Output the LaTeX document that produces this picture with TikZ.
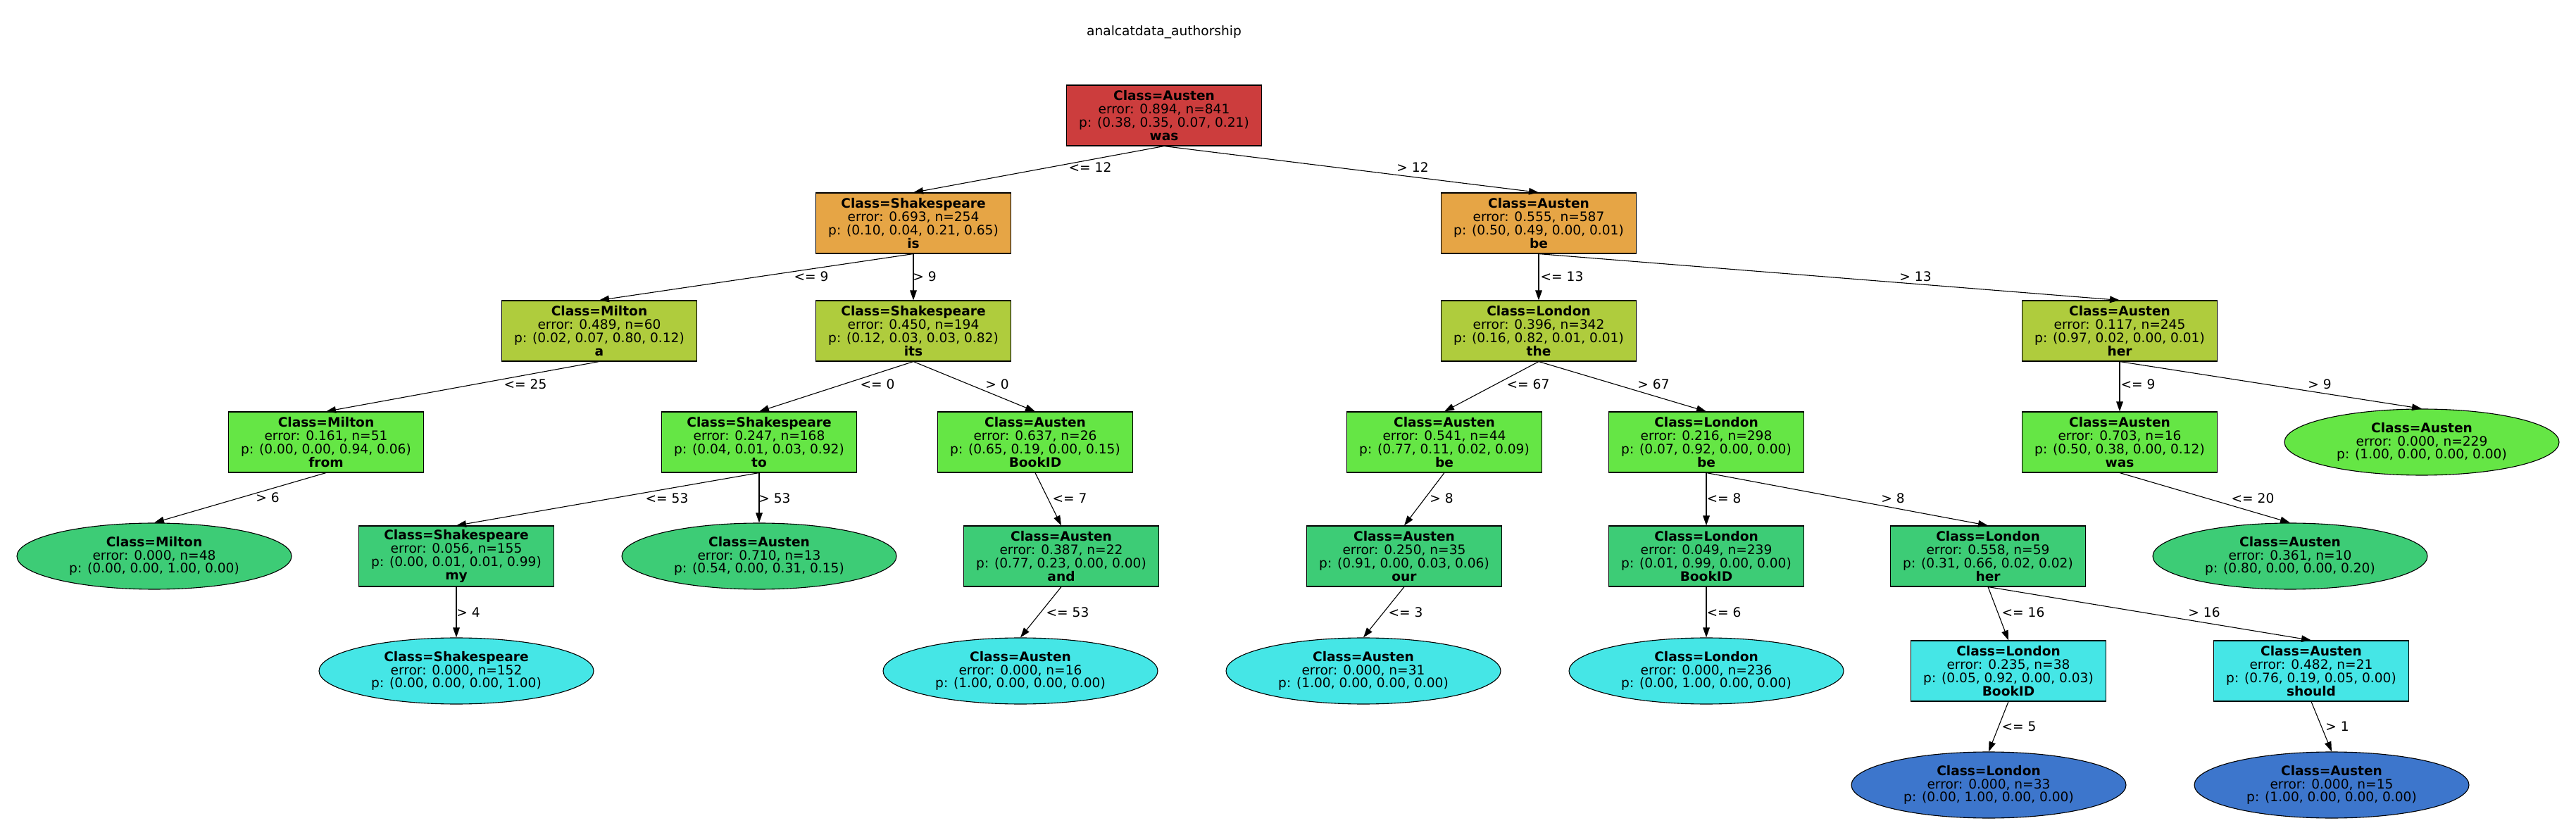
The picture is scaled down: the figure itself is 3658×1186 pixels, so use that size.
\documentclass[tikz,border=0pt]{standalone}
\usepackage{fontspec}
\setmainfont{DejaVu Sans}
\usetikzlibrary{arrows.meta,shapes.geometric}
\definecolor{cred}{HTML}{CC3D3D}
\definecolor{corange}{HTML}{E6A545}
\definecolor{cyellow}{HTML}{AFCC3D}
\definecolor{cgreen}{HTML}{65E645}
\definecolor{cteal}{HTML}{3DCC76}
\definecolor{ccyan}{HTML}{45E6E6}
\definecolor{cblue}{HTML}{3D76CC}

\begin{document}
\begin{tikzpicture}[x=0.5pt, y=-0.5pt,
  every node/.style={font=\fontsize{9.3}{9.4}\selectfont},
  split/.style={draw, rectangle, align=center, minimum width=138.5pt, minimum height=43pt, inner sep=0pt, line width=0.55pt},
  leaf/.style={draw, ellipse, align=center, minimum width=195pt, minimum height=47pt, inner sep=0pt, line width=0.55pt},
  edge/.style={line width=0.55pt, -{Triangle[length=7pt, width=4.8pt]}},
  cond/.style={inner sep=0pt}]
  \useasboundingbox (0,0) rectangle (3658,1186);
  \node (title) at (1653,46) {analcatdata\_authorship};

  % depth 0-2
  \node[split, fill=cred] (root) at (1653,164) {\textbf{Class=Austen}\\error: 0.894, n=841\\p: (0.38, 0.35, 0.07, 0.21)\\\textbf{was}};
  \node[split, fill=corange] (L) at (1297,317) {\textbf{Class=Shakespeare}\\error: 0.693, n=254\\p: (0.10, 0.04, 0.21, 0.65)\\\textbf{is}};
  \node[split, fill=corange] (R) at (2185,317) {\textbf{Class=Austen}\\error: 0.555, n=587\\p: (0.50, 0.49, 0.00, 0.01)\\\textbf{be}};
  \node[split, fill=cyellow] (LL) at (851,470) {\textbf{Class=Milton}\\error: 0.489, n=60\\p: (0.02, 0.07, 0.80, 0.12)\\\textbf{a}};
  \node[split, fill=cyellow] (LR) at (1297,470) {\textbf{Class=Shakespeare}\\error: 0.450, n=194\\p: (0.12, 0.03, 0.03, 0.82)\\\textbf{its}};
  \node[split, fill=cyellow] (RL) at (2185,470) {\textbf{Class=London}\\error: 0.396, n=342\\p: (0.16, 0.82, 0.01, 0.01)\\\textbf{the}};
  \node[split, fill=cyellow] (RR) at (3010,470) {\textbf{Class=Austen}\\error: 0.117, n=245\\p: (0.97, 0.02, 0.00, 0.01)\\\textbf{her}};

  % depth 3
  \node[split, fill=cgreen] (LLL) at (463,628) {\textbf{Class=Milton}\\error: 0.161, n=51\\p: (0.00, 0.00, 0.94, 0.06)\\\textbf{from}};
  \node[split, fill=cgreen] (LRL) at (1078,628) {\textbf{Class=Shakespeare}\\error: 0.247, n=168\\p: (0.04, 0.01, 0.03, 0.92)\\\textbf{to}};
  \node[split, fill=cgreen] (LRR) at (1470,628) {\textbf{Class=Austen}\\error: 0.637, n=26\\p: (0.65, 0.19, 0.00, 0.15)\\\textbf{BookID}};
  \node[split, fill=cgreen] (RLL) at (2051,628) {\textbf{Class=Austen}\\error: 0.541, n=44\\p: (0.77, 0.11, 0.02, 0.09)\\\textbf{be}};
  \node[split, fill=cgreen] (RLR) at (2423,628) {\textbf{Class=London}\\error: 0.216, n=298\\p: (0.07, 0.92, 0.00, 0.00)\\\textbf{be}};
  \node[split, fill=cgreen] (RRL) at (3010,628) {\textbf{Class=Austen}\\error: 0.703, n=16\\p: (0.50, 0.38, 0.00, 0.12)\\\textbf{was}};
  \node[leaf, fill=cgreen] (RRR) at (3439,628) {\textbf{Class=Austen}\\error: 0.000, n=229\\p: (1.00, 0.00, 0.00, 0.00)};

  % depth 4
  \node[leaf, fill=cteal] (LLLR) at (219,790) {\textbf{Class=Milton}\\error: 0.000, n=48\\p: (0.00, 0.00, 1.00, 0.00)};
  \node[split, fill=cteal] (LRLL) at (648,790) {\textbf{Class=Shakespeare}\\error: 0.056, n=155\\p: (0.00, 0.01, 0.01, 0.99)\\\textbf{my}};
  \node[leaf, fill=cteal] (LRLR) at (1078,790) {\textbf{Class=Austen}\\error: 0.710, n=13\\p: (0.54, 0.00, 0.31, 0.15)};
  \node[split, fill=cteal] (LRRL) at (1507,790) {\textbf{Class=Austen}\\error: 0.387, n=22\\p: (0.77, 0.23, 0.00, 0.00)\\\textbf{and}};
  \node[split, fill=cteal] (RLLR) at (1994,790) {\textbf{Class=Austen}\\error: 0.250, n=35\\p: (0.91, 0.00, 0.03, 0.06)\\\textbf{our}};
  \node[split, fill=cteal] (RLRL) at (2423,790) {\textbf{Class=London}\\error: 0.049, n=239\\p: (0.01, 0.99, 0.00, 0.00)\\\textbf{BookID}};
  \node[split, fill=cteal] (RLRR) at (2823,790) {\textbf{Class=London}\\error: 0.558, n=59\\p: (0.31, 0.66, 0.02, 0.02)\\\textbf{her}};
  \node[leaf, fill=cteal] (RRLL) at (3252,790) {\textbf{Class=Austen}\\error: 0.361, n=10\\p: (0.80, 0.00, 0.00, 0.20)};

  % depth 5-6
  \node[leaf, fill=ccyan] (LRLLR) at (648,953) {\textbf{Class=Shakespeare}\\error: 0.000, n=152\\p: (0.00, 0.00, 0.00, 1.00)};
  \node[leaf, fill=ccyan] (LRRLL) at (1449,953) {\textbf{Class=Austen}\\error: 0.000, n=16\\p: (1.00, 0.00, 0.00, 0.00)};
  \node[leaf, fill=ccyan] (RLLRL) at (1936,953) {\textbf{Class=Austen}\\error: 0.000, n=31\\p: (1.00, 0.00, 0.00, 0.00)};
  \node[leaf, fill=ccyan] (RLRLL) at (2423,953) {\textbf{Class=London}\\error: 0.000, n=236\\p: (0.00, 1.00, 0.00, 0.00)};
  \node[split, fill=ccyan] (RLRRL) at (2852,953) {\textbf{Class=London}\\error: 0.235, n=38\\p: (0.05, 0.92, 0.00, 0.03)\\\textbf{BookID}};
  \node[split, fill=ccyan] (RLRRR) at (3282,953) {\textbf{Class=Austen}\\error: 0.482, n=21\\p: (0.76, 0.19, 0.05, 0.00)\\\textbf{should}};
  \node[leaf, fill=cblue] (RLRRLL) at (2824,1115) {\textbf{Class=London}\\error: 0.000, n=33\\p: (0.00, 1.00, 0.00, 0.00)};
  \node[leaf, fill=cblue] (RLRRRR) at (3311,1115) {\textbf{Class=Austen}\\error: 0.000, n=15\\p: (1.00, 0.00, 0.00, 0.00)};

  % branches
  \draw[edge] (root.south) -- (L.north) node[cond] (kL) at (1548,238) {<= 12};
  \draw[edge] (root.south) -- (R.north) node[cond] (kR) at (2006,238) {> 12};
  \draw[edge] (L.south) -- (LL.north) node[cond] (kLL) at (1152,393) {<= 9};
  \draw[edge] (L.south) -- (LR.north) node[cond] (kLR) at (1313,393) {> 9};
  \draw[edge] (R.south) -- (RL.north) node[cond] (kRL) at (2218,393) {<= 13};
  \draw[edge] (R.south) -- (RR.north) node[cond] (kRR) at (2720,393) {> 13};
  \draw[edge] (LL.south) -- (LLL.north) node[cond] (kLLL) at (746,546) {<= 25};
  \draw[edge] (LR.south) -- (LRL.north) node[cond] (kLRL) at (1246,546) {<= 0};
  \draw[edge] (LR.south) -- (LRR.north) node[cond] (kLRR) at (1416,546) {> 0};
  \draw[edge] (RL.south) -- (RLL.north) node[cond] (kRLL) at (2170,546) {<= 67};
  \draw[edge] (RL.south) -- (RLR.north) node[cond] (kRLR) at (2348,546) {> 67};
  \draw[edge] (RR.south) -- (RRL.north) node[cond] (kRRL) at (3036,546) {<= 9};
  \draw[edge] (RR.south) -- (RRR.north) node[cond] (kRRR) at (3294,546) {> 9};
  \draw[edge] (LLL.south) -- (LLLR.north) node[cond] (kLLLR) at (380,707) {> 6};
  \draw[edge] (LRL.south) -- (LRLL.north) node[cond] (kLRLL) at (947,708) {<= 53};
  \draw[edge] (LRL.south) -- (LRLR.north) node[cond] (kLRLR) at (1100,708) {> 53};
  \draw[edge] (LRR.south) -- (LRRL.north) node[cond] (kLRRL) at (1519,708) {<= 7};
  \draw[edge] (RLL.south) -- (RLLR.north) node[cond] (kRLLR) at (2047,708) {> 8};
  \draw[edge] (RLR.south) -- (RLRL.north) node[cond] (kRLRL) at (2448,708) {<= 8};
  \draw[edge] (RLR.south) -- (RLRR.north) node[cond] (kRLRR) at (2688,708) {> 8};
  \draw[edge] (RRL.south) -- (RRLL.north) node[cond] (kRRLL) at (3199,708) {<= 20};
  \draw[edge] (LRLL.south) -- (LRLLR.north) node[cond] (kLRLLR) at (665,870) {> 4};
  \draw[edge] (LRRL.south) -- (LRRLL.north) node[cond] (kLRRLL) at (1516,870) {<= 53};
  \draw[edge] (RLLR.south) -- (RLLRL.north) node[cond] (kRLLRL) at (1996,870) {<= 3};
  \draw[edge] (RLRL.south) -- (RLRLL.north) node[cond] (kRLRLL) at (2448,870) {<= 6};
  \draw[edge] (RLRR.south) -- (RLRRL.north) node[cond] (kRLRRL) at (2873,870) {<= 16};
  \draw[edge] (RLRR.south) -- (RLRRR.north) node[cond] (kRLRRR) at (3130,870) {> 16};
  \draw[edge] (RLRRL.south) -- (RLRRLL.north) node[cond] (kRLRRLL) at (2867,1032) {<= 5};
  \draw[edge] (RLRRR.south) -- (RLRRRR.north) node[cond] (kRLRRRR) at (3319,1032) {> 1};
\end{tikzpicture}
\end{document}
